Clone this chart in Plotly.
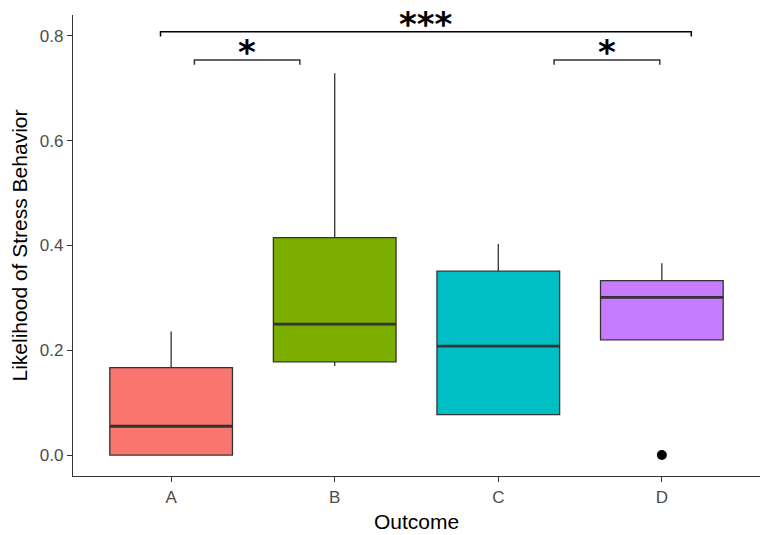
import plotly.graph_objects as go

categories = ["A", "B", "C", "D"]
positions = [1, 2, 3, 4]
q1 = [0.0, 0.178, 0.077, 0.220]
median = [0.055, 0.250, 0.208, 0.301]
q3 = [0.167, 0.415, 0.351, 0.333]
lower = [0.0, 0.170, 0.077, 0.220]
upper = [0.236, 0.729, 0.403, 0.366]
colors = ["#F8766D", "#7CAE00", "#00BFC4", "#C77CFF"]
outlier_x = [4]
outlier_y = [0.0]

# significance comparisons: (x start, x end, y level, label, colour)
comparisons = [
    (0.935, 4.18, 0.808, "***", "#000000"),
    (1.142, 1.787, 0.754, "*", "#333333"),
    (3.341, 3.987, 0.754, "*", "#333333"),
]
tip = 0.009

box_w = 0.75

fig = go.Figure()
for i in range(len(categories)):
    fig.add_trace(go.Box(
        x=[positions[i]], q1=[q1[i]], median=[median[i]], q3=[q3[i]],
        lowerfence=[lower[i]], upperfence=[upper[i]],
        width=box_w, whiskerwidth=0, fillcolor=colors[i],
        line=dict(color="#333333", width=1.3), boxpoints=False,
        name=categories[i], showlegend=False, hoverinfo="skip",
    ))
    fig.add_trace(go.Scatter(
        x=[positions[i] - box_w / 2, positions[i] + box_w / 2],
        y=[median[i], median[i]], mode="lines",
        line=dict(color="#333333", width=2.8), showlegend=False, hoverinfo="skip",
    ))

fig.add_trace(go.Scatter(x=outlier_x, y=outlier_y, mode="markers",
                         marker=dict(color="black", size=10), showlegend=False))

for x0, x1, y, label, col in comparisons:
    fig.add_trace(go.Scatter(
        x=[x0, x0, x1, x1], y=[y - tip, y, y, y - tip], mode="lines",
        line=dict(color=col, width=1.5), showlegend=False, hoverinfo="skip",
    ))
    fig.add_annotation(x=(x0 + x1) / 2, y=y, text="<b>" + label + "</b>",
                       showarrow=False, yanchor="bottom", yshift=-14,
                       font=dict(size=34, color="black", family="DejaVu Sans"))

fig.update_layout(
    width=760, height=527,
    margin=dict(l=65, r=8, t=7, b=59),
    plot_bgcolor="white", paper_bgcolor="white",
    font=dict(family="Liberation Sans, Arial, sans-serif"),
    xaxis=dict(
        range=[0.4, 4.6], tickvals=positions, ticktext=categories,
        showgrid=False, zeroline=False, showline=True, linecolor="#333333", linewidth=1.2,
        ticks="outside", ticklen=5, tickcolor="#333333",
        tickfont=dict(size=17, color="#4D4D4D"),
        title=dict(text="Outcome", font=dict(size=21, color="black"), standoff=8),
    ),
    yaxis=dict(
        range=[-0.040, 0.840], tickvals=[0, 0.2, 0.4, 0.6, 0.8],
        ticktext=["0.0", "0.2", "0.4", "0.6", "0.8"],
        showgrid=False, zeroline=False, showline=True, linecolor="#333333", linewidth=1.2,
        ticks="outside", ticklen=5, tickcolor="#333333",
        tickfont=dict(size=17, color="#4D4D4D"),
        title=dict(text="Likelihood of Stress Behavior", font=dict(size=21, color="black"), standoff=6),
    ),
)

fig.write_html("out.html")
